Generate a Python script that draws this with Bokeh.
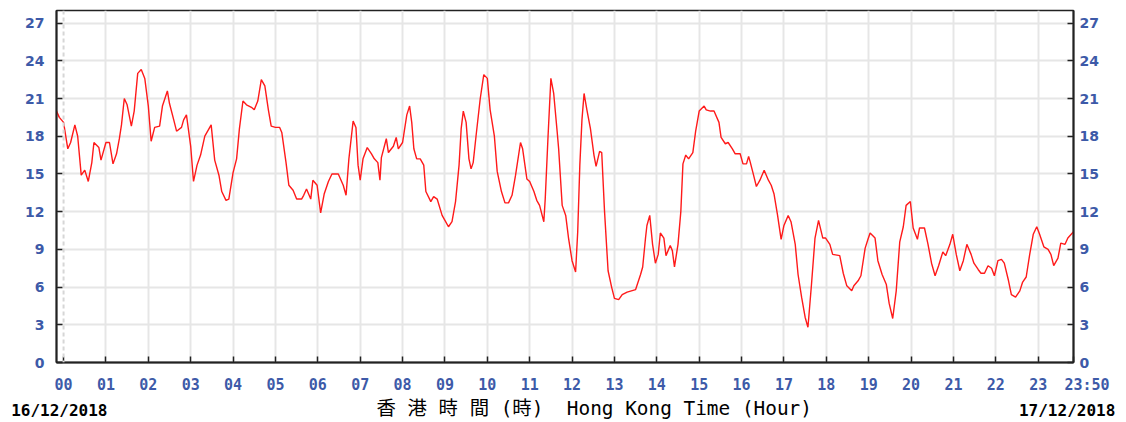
from bokeh.plotting import figure
from bokeh.models import Range1d, LinearAxis, FixedTicker, Span
from bokeh.embed import file_html
from bokeh.resources import INLINE

# ---------------- data ----------------
minutes = [-10, -6, 0, 6, 10, 16, 20, 25, 30, 35, 40, 43, 50, 53, 60, 65, 70, 75, 79, 82,
           86, 90, 96, 100, 105, 110, 115, 120, 124, 129, 136, 140, 147, 150, 156, 160, 167, 170, 174, 180,
           184, 189, 194, 200, 209, 214, 220, 224, 230, 234, 240, 245, 249, 254, 259, 266, 270, 275, 280, 285,
           290, 294, 300, 306, 309, 315, 319, 325, 330, 337, 340, 344, 350, 353, 359, 364, 369, 375, 380, 389,
           396, 400, 404, 410, 414, 417, 420, 424, 430, 436, 440, 445, 448, 450, 457, 460, 467, 471, 474, 480,
           486, 490, 493, 496, 500, 505, 510, 513, 520, 524, 529, 536, 540, 545, 550, 555, 560, 563, 566, 570,
           574, 577, 580, 584, 590, 595, 600, 604, 610, 614, 620, 625, 630, 635, 640, 647, 650, 656, 660, 666,
           670, 674, 680, 682, 686, 690, 694, 699, 701, 706, 711, 715, 720, 725, 728, 731, 734, 737, 741, 746,
           751, 754, 759, 762, 766, 771, 776, 780, 786, 791, 798, 810, 817, 820, 824, 826, 830, 834, 838, 842,
           845, 850, 853, 859, 862, 865, 870, 874, 877, 881, 885, 891, 895, 900, 907, 910, 916, 921, 928, 931,
           937, 941, 947, 951, 958, 962, 967, 970, 972, 977, 981, 986, 992, 998, 1002, 1006, 1011, 1016, 1020, 1026,
           1030, 1036, 1040, 1045, 1050, 1054, 1059, 1064, 1069, 1075, 1079, 1085, 1089, 1099, 1104, 1109, 1116, 1119, 1125, 1129,
           1135, 1139, 1142, 1149, 1153, 1159, 1165, 1169, 1174, 1179, 1184, 1189, 1193, 1199, 1203, 1209, 1212, 1219, 1224, 1229,
           1234, 1239, 1245, 1249, 1255, 1259, 1264, 1269, 1274, 1279, 1285, 1289, 1295, 1299, 1304, 1309, 1314, 1318, 1323, 1328,
           1332, 1338, 1342, 1348, 1354, 1358, 1363, 1368, 1373, 1378, 1382, 1388, 1394, 1398, 1402, 1408, 1412, 1418, 1422, 1430]
speed = [20.0, 19.5, 19.1, 17.0, 17.5, 18.9, 18.0, 14.9, 15.3, 14.4, 15.9, 17.5, 17.1, 16.1, 17.5, 17.5, 15.8, 16.6, 17.8, 18.9,
         21.0, 20.5, 18.8, 20.0, 23.0, 23.3, 22.6, 20.4, 17.6, 18.7, 18.8, 20.4, 21.6, 20.6, 19.3, 18.4, 18.7, 19.3, 19.7, 17.2,
         14.4, 15.7, 16.5, 18.0, 18.9, 16.1, 14.9, 13.6, 12.9, 13.0, 15.1, 16.2, 18.6, 20.8, 20.5, 20.3, 20.1, 20.8, 22.5, 22.0,
         20.1, 18.8, 18.7, 18.7, 18.3, 15.9, 14.1, 13.7, 13.0, 13.0, 13.3, 13.8, 13.0, 14.5, 14.1, 11.9, 13.4, 14.4, 15.0, 15.0,
         14.1, 13.3, 16.2, 19.2, 18.7, 15.7, 14.5, 16.2, 17.1, 16.6, 16.2, 15.9, 14.5, 16.3, 17.8, 16.7, 17.2, 17.9, 17.0, 17.5,
         19.7, 20.4, 19.1, 17.0, 16.2, 16.2, 15.7, 13.6, 12.8, 13.2, 13.0, 11.7, 11.3, 10.8, 11.2, 12.8, 15.7, 18.6, 20.0, 19.1,
         16.2, 15.4, 15.9, 18.0, 21.0, 22.9, 22.6, 20.1, 18.0, 15.2, 13.6, 12.7, 12.7, 13.3, 14.9, 17.5, 17.0, 14.6, 14.4, 13.6,
         12.9, 12.5, 11.2, 13.0, 18.0, 22.6, 21.4, 18.3, 17.0, 12.5, 11.7, 9.9, 8.1, 7.2, 10.4, 15.7, 19.3, 21.4, 20.1, 18.6,
         16.5, 15.6, 16.8, 16.7, 12.0, 7.3, 6.0, 5.1, 5.0, 5.4, 5.6, 5.8, 7.0, 7.6, 9.9, 10.9, 11.7, 9.4, 7.9, 8.6,
         10.3, 9.9, 8.5, 9.3, 8.9, 7.6, 9.4, 12.0, 15.8, 16.5, 16.2, 16.7, 18.4, 20.0, 20.4, 20.1, 20.0, 20.0, 19.1, 17.9,
         17.4, 17.5, 17.0, 16.6, 16.6, 15.8, 15.8, 16.4, 16.0, 14.9, 14.0, 14.5, 15.3, 14.5, 14.1, 13.4, 11.7, 9.8, 10.9, 11.7,
         11.2, 9.4, 7.0, 5.2, 3.6, 2.8, 6.2, 9.9, 11.3, 9.9, 9.9, 9.4, 8.6, 8.5, 7.1, 6.1, 5.7, 6.1, 6.5, 6.9,
         9.1, 9.8, 10.3, 9.9, 8.1, 7.0, 6.2, 4.7, 3.5, 5.7, 9.6, 10.8, 12.5, 12.8, 10.7, 9.8, 10.7, 10.7, 9.4, 7.9,
         6.9, 7.7, 8.8, 8.5, 9.4, 10.2, 8.6, 7.3, 8.1, 9.4, 8.6, 7.9, 7.4, 7.1, 7.1, 7.7, 7.5, 6.9, 8.1, 8.2,
         7.9, 6.5, 5.4, 5.2, 5.7, 6.4, 6.8, 8.6, 10.2, 10.8, 10.2, 9.2, 9.0, 8.6, 7.7, 8.3, 9.5, 9.4, 9.9, 10.4]

hour_ticks = [h * 60 for h in range(24)]
hour_labels = ["%02d" % h for h in range(24)]
end_tick = 1430
end_label = "23:50"
y_ticks = [0, 3, 6, 9, 12, 15, 18, 21, 24, 27]
date_ticks = [-6, 1421]
date_labels = ["16/12/2018", "17/12/2018"]
title_text = "香 港 時 間 (時) \u00a0Hong Kong Time (Hour)"

# ---------------- style ----------------
BLUE = "#3d5aa8"
AXIS = "#222222"
GRID = "#e6e6e6"
MONO = "DejaVu Sans Mono"
MIXED = "DejaVu Sans Mono, Noto Sans CJK TC"
ZW = "\u200c"        # keeps padding from being trimmed
FIG = "\u2007"       # figure space (digit width)
NB = "\u00a0"

W, H = 1126, 422
p = figure(width=W, height=H, x_range=Range1d(-10, 1430), y_range=Range1d(0, 28),
           output_backend="svg", toolbar_location=None,
           min_border_left=56, min_border_right=53, min_border_top=10, min_border_bottom=56)
p.background_fill_color = "white"
p.border_fill_color = "white"
p.outline_line_color = AXIS
p.outline_line_width = 1.5

# grids
p.xgrid.ticker = FixedTicker(ticks=hour_ticks[1:])
p.ygrid.ticker = FixedTicker(ticks=y_ticks)
for g in (p.xgrid[0], p.ygrid[0]):
    g.grid_line_color = GRID
    g.grid_line_width = 2
p.add_layout(Span(location=0, dimension="height", line_color="#d6d6d6",
                  line_width=2, line_dash="4 3"))

# y axes
right = LinearAxis()
p.add_layout(right, "right")
for ax, standoff in ((p.yaxis[0], 12), (right, 6)):
    ax.ticker = FixedTicker(ticks=y_ticks)
    ax.major_tick_in = 6
    ax.major_tick_out = 0
    ax.minor_tick_in = 0
    ax.minor_tick_out = 0
    ax.axis_line_color = AXIS
    ax.axis_line_width = 2
    ax.major_tick_line_color = AXIS
    ax.major_tick_line_width = 1.5
    ax.major_label_standoff = standoff
    ax.major_label_text_color = BLUE
    ax.major_label_text_font = "DejaVu Sans"
    ax.major_label_text_font_style = "bold"
    ax.major_label_text_font_size = "14px"
# left labels are left-aligned in the reference: pad single digits
p.yaxis[0].major_label_overrides = {t: (ZW + FIG + str(t) if t < 10 else str(t)) for t in y_ticks}

# main x axis (hours) with title as its axis label
xa = p.xaxis[0]
xa.ticker = FixedTicker(ticks=hour_ticks + [end_tick])
over = dict(zip(hour_ticks, hour_labels))
over[end_tick] = ZW + NB * 3 + end_label
xa.major_label_overrides = over
xa.major_tick_in = 6
xa.major_tick_out = 0
xa.minor_tick_in = 0
xa.minor_tick_out = 0
xa.axis_line_color = AXIS
xa.axis_line_width = 2
xa.major_tick_line_color = AXIS
xa.major_tick_line_width = 1.5
xa.major_label_standoff = 13
xa.major_label_text_color = BLUE
xa.major_label_text_font = MONO
xa.major_label_text_font_style = "bold"
xa.major_label_text_font_size = "15px"
xa.axis_label = ZW + NB * 5 + title_text
xa.axis_label_standoff = 0
xa.axis_label_text_font = MIXED
xa.axis_label_text_font_style = "normal"
xa.axis_label_text_font_size = "19.4px"
xa.axis_label_text_color = "black"

# second x axis carrying the two dates on the same row as the title
da = LinearAxis()
p.add_layout(da, "below")
da.ticker = FixedTicker(ticks=date_ticks)
da.major_label_overrides = dict(zip(date_ticks, date_labels))
da.axis_line_color = None
da.major_tick_line_color = None
da.minor_tick_line_color = None
da.major_tick_in = 0
da.major_tick_out = 0
da.minor_tick_in = 0
da.minor_tick_out = 0
da.major_label_standoff = -22
da.major_label_text_color = "black"
da.major_label_text_font = MONO
da.major_label_text_font_style = "bold"
da.major_label_text_font_size = "16px"

# data line
p.line(minutes, speed, line_color="#ff1a1a", line_width=1.4)

open("out.html", "w").write(file_html(p, INLINE))
